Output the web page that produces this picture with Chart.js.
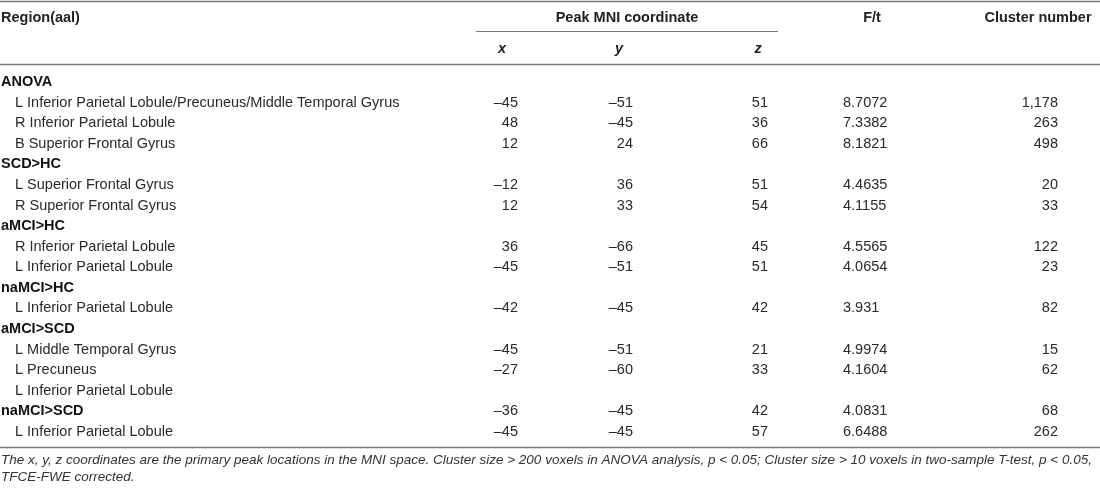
<!DOCTYPE html>
<html>
<head>
<meta charset="utf-8">
<script src="https://cdn.jsdelivr.net/npm/chart.js@4.4.1/dist/chart.umd.min.js"></script>
<style>
  html, body { margin: 0; padding: 0; background: #fff; }
  #table_chart { display: block; }
</style>
</head>
<body>
<canvas id="table_chart" width="1100" height="489"></canvas>
<script>
// table content, one entry per row
const regions = [
    "ANOVA",
    "L Inferior Parietal Lobule/Precuneus/Middle Temporal Gyrus",
    "R Inferior Parietal Lobule",
    "B Superior Frontal Gyrus",
    "SCD>HC",
    "L Superior Frontal Gyrus",
    "R Superior Frontal Gyrus",
    "aMCI>HC",
    "R Inferior Parietal Lobule",
    "L Inferior Parietal Lobule",
    "naMCI>HC",
    "L Inferior Parietal Lobule",
    "aMCI>SCD",
    "L Middle Temporal Gyrus",
    "L Precuneus",
    "L Inferior Parietal Lobule",
    "naMCI>SCD",
    "L Inferior Parietal Lobule"
];
const groupRows = [0, 4, 7, 10, 12, 16];

const peakX    = [null, -45, 48, 12, null, -12, 12, null, 36, -45, null, -42, null, -45, -27, null, -36, -45];
const peakY    = [null, -51, -45, 24, null, 36, 33, null, -66, -51, null, -45, null, -51, -60, null, -45, -45];
const peakZ    = [null, 51, 36, 66, null, 51, 54, null, 45, 51, null, 42, null, 21, 33, null, 42, 57];
const fValues  = [null, "8.7072", "7.3382", "8.1821", null, "4.4635", "4.1155", null, "4.5565", "4.0654", null, "3.931", null, "4.9974", "4.1604", null, "4.0831", "6.6488"];
const clusters = [null, 1178, 263, 498, null, 20, 33, null, 122, 23, null, 82, null, 15, 62, null, 68, 262];

const headers = ["Region(aal)", "Peak MNI coordinate", "F/t", "Cluster number"];
const coordLabels = ["x", "y", "z"];
const footnote = [
    "The x, y, z coordinates are the primary peak locations in the MNI space. Cluster size > 200 voxels in ANOVA analysis, p < 0.05; Cluster size > 10 voxels in two-sample T-test, p < 0.05,",
    "TFCE-FWE corrected."
];

// layout: x in pixels, y in row units (row 0 = ANOVA)
const col = { region: 1, indent: 15, x: 518, y: 633, z: 768, f: 843, cluster: 1058 };
const colHead = { x: 502, y: 619, z: 758, peak: 627, f: 872, cluster: 1038 };
const rowAt = { head: -3.11, sub: -1.59, topRule: -3.93, subRule: -2.49, headRule: -0.874, bottomRule: 17.73, note1: 18.35, note2: 19.22 };
const FONT = "'Liberation Sans', Arial, sans-serif";

function fmtCoord(v){
    return v < 0 ? "\u2013" + Math.abs(v) : String(v);
}
function fmtCluster(v){
    return String(v).replace(/\B(?=(\d{3})+(?!\d))/g, ",");
}

const tablePlugin = {
    id: "tableDraw",
    afterDraw(chart){
        const c = chart.ctx;
        const sx = chart.scales.x, sy = chart.scales.y;
        const px = v => sx.getPixelForValue(v);
        const py = v => sy.getPixelForValue(v);

        function text(str, x, row, align, font, color){
            c.font = font;
            c.fillStyle = color || "#222";
            c.textAlign = align;
            c.textBaseline = "middle";
            c.fillText(str, px(x), py(row));
        }
        function rule(x0, x1, row, w){
            c.beginPath();
            c.strokeStyle = "#777";
            c.lineWidth = w || 1;
            c.moveTo(px(x0), Math.round(py(row)) + 0.5);
            c.lineTo(px(x1), Math.round(py(row)) + 0.5);
            c.stroke();
        }

        c.save();
        rule(0, 1100, rowAt.topRule, 1.4);
        rule(476, 778, rowAt.subRule, 1.2);
        rule(0, 1100, rowAt.headRule, 1.4);
        rule(0, 1100, rowAt.bottomRule, 1.4);

        const bold = "bold 14.5px " + FONT;
        text(headers[0], col.region, rowAt.head, "left", bold);
        text(headers[1], colHead.peak, rowAt.head, "center", bold);
        text(headers[2], colHead.f, rowAt.head, "center", bold);
        text(headers[3], colHead.cluster, rowAt.head, "center", bold);
        const ib = "italic bold 14.5px " + FONT;
        text(coordLabels[0], colHead.x, rowAt.sub, "center", ib);
        text(coordLabels[1], colHead.y, rowAt.sub, "center", ib);
        text(coordLabels[2], colHead.z, rowAt.sub, "center", ib);

        const reg = "14.5px " + FONT;
        const ink = "#2a2a2a";
        regions.forEach((r, i) => {
            const isGroup = groupRows.includes(i);
            text(r, isGroup ? col.region : col.indent, i, "left", isGroup ? bold : reg, isGroup ? "#111" : ink);
            if (peakX[i] !== null) text(fmtCoord(peakX[i]), col.x, i, "right", reg, ink);
            if (peakY[i] !== null) text(fmtCoord(peakY[i]), col.y, i, "right", reg, ink);
            if (peakZ[i] !== null) text(fmtCoord(peakZ[i]), col.z, i, "right", reg, ink);
            if (fValues[i] !== null) text(fValues[i], col.f, i, "left", reg, ink);
            if (clusters[i] !== null) text(fmtCluster(clusters[i]), col.cluster, i, "right", reg, ink);
        });

        const it = "italic 13.5px " + FONT;
        text(footnote[0], col.region, rowAt.note1, "left", it, "#333");
        text(footnote[1], col.region, rowAt.note2, "left", it, "#333");
        c.restore();
    }
};

const ctx = document.getElementById("table_chart");
const pitch = 20.59, firstRowPx = 82;
const table_chart = new Chart(ctx, {
    type: "scatter",
    data: { datasets: [] },
    options: {
        responsive: false,
        animation: false,
        layout: { padding: 0 },
        plugins: { legend: { display: false }, tooltip: { enabled: false } },
        scales: {
            x: { type: "linear", min: 0, max: 1100, display: false },
            y: { type: "linear", reverse: true, display: false,
                 min: -firstRowPx / pitch, max: (489 - firstRowPx) / pitch }
        }
    },
    plugins: [tablePlugin]
});
</script>
</body>
</html>
